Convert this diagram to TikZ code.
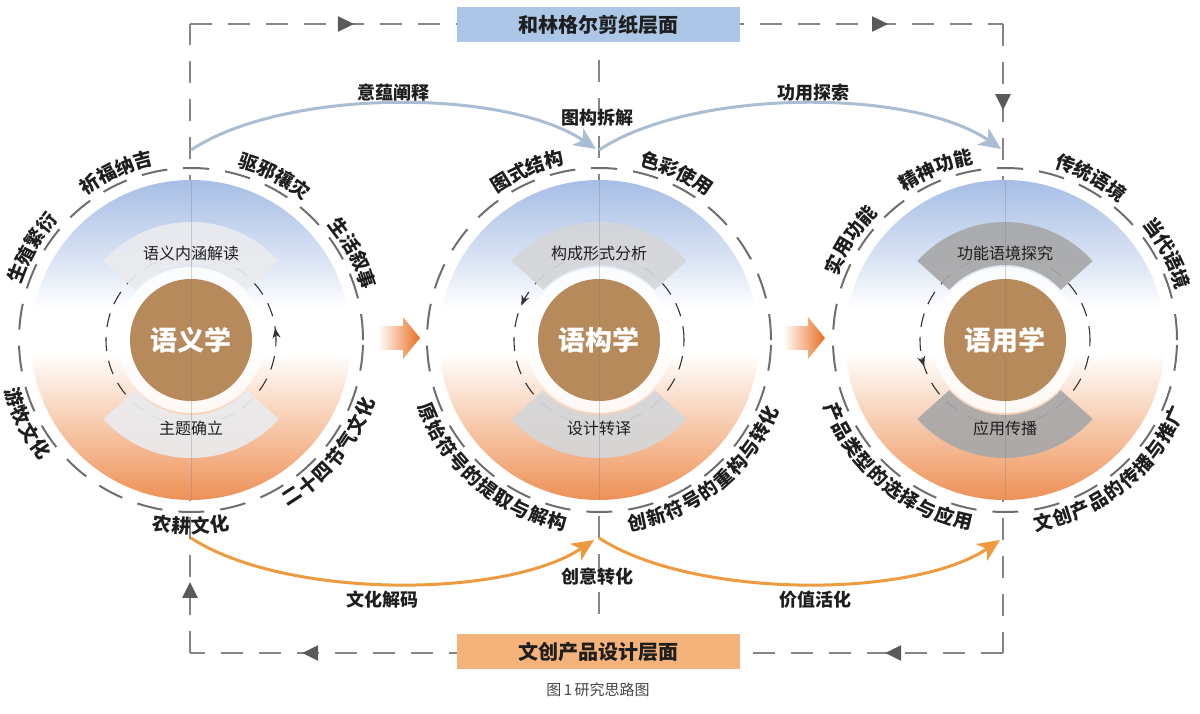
\documentclass[tikz,border=0pt]{standalone}
\usepackage{fontspec}
\setmainfont{Noto Sans CJK SC}
\usetikzlibrary{arrows.meta,decorations.markings,calc}

\definecolor{frameGray}{HTML}{858585}
\definecolor{tipGray}{HTML}{5A5A5A}
\definecolor{ringGray}{HTML}{6E6E6E}
\definecolor{blueTop}{HTML}{A7BEE6}
\definecolor{blueMid}{HTML}{D8E2F3}
\definecolor{orgBot}{HTML}{EE9056}
\definecolor{orgMid}{HTML}{F7CBAE}
\definecolor{brownC}{HTML}{B78A5C}
\definecolor{bandA}{HTML}{EAEBEE}
\definecolor{bandB}{HTML}{D5D6D9}
\definecolor{bandC}{HTML}{A8A8A9}
\definecolor{curveBlue}{HTML}{A9BED2}
\definecolor{curveOrg}{HTML}{EE9A3E}
\definecolor{bannerBlue}{HTML}{ABC6E6}
\definecolor{bannerOrg}{HTML}{F5B27A}
\definecolor{blockOrg}{HTML}{E96E22}
\definecolor{txt}{HTML}{1E1E1E}
\definecolor{capGray}{HTML}{444444}

\pgfdeclareverticalshading{discshade}{100bp}{color(0bp)=(orgBot); color(25bp)=(orgBot); color(37bp)=(orgMid); color(48bp)=(white); color(55bp)=(white); color(63bp)=(blueMid); color(75bp)=(blueTop); color(100bp)=(blueTop)}

\tikzset{
  ftip/.tip={Triangle[length=8pt,width=7.5pt,color=tipGray]},
  outerring/.style={draw=ringGray, line width=1pt, dash pattern=on 13pt off 8pt},
  innerring/.style={draw=black!80, line width=0.55pt, dash pattern=on 7pt off 5pt},
  innertip/.style={draw=black!80, line width=0.55pt, -{Stealth[length=5pt,width=4pt]}},
  ringlab/.style={inner sep=0pt, text=txt, font=\bfseries\fontsize{9.5}{10}\selectfont},
  bandtext/.style={inner sep=0pt, text=txt, font=\fontsize{8}{9}\selectfont},
  coretext/.style={inner sep=0pt, text=white, font=\bfseries\fontsize{13.5}{14}\selectfont},
  curvelab/.style={inner sep=1pt, text=txt, font=\bfseries\fontsize{9}{10}\selectfont},
  frame/.style={draw=frameGray, line width=1.2pt, dash pattern=on 11pt off 8pt},
  midline/.style={draw=frameGray, line width=0.9pt, dash pattern=on 11pt off 8pt},
  faintline/.style={draw=gray, line width=0.5pt, opacity=0.35},
  topcurve/.style={draw=curveBlue, line width=1.5pt, -{Stealth[length=11pt,width=10pt,inset=3pt]}},
  botcurve/.style={draw=curveOrg, line width=1.5pt, -{Stealth[length=11pt,width=10pt,inset=3pt]}},
  banner/.style={minimum width=141.5pt, minimum height=17.5pt, inner sep=0pt, text=txt, font=\bfseries\fontsize{10}{11}\selectfont},
}

% #1 name, #2 x, #3 y, #4 band colour, #5 core text, #6 top band, #7 bottom band, #8 arrow angle
\newcommand\discunit[8]{%
 \begin{scope}[shift={(#2,#3)}]
  \coordinate (#1) at (0,0);
  \shade[shading=discshade] (0,0) circle[radius=160];
  \draw[outerring] (0,0) circle[radius=172];
  \draw[innerring] (0,0) circle[radius=85];
  \draw[innertip] ({#8-6}:85) arc[start angle=#8-6, end angle=#8, radius=85];
  \fill[#4, opacity=0.92] (42:75) arc[start angle=42,end angle=138,radius=75] -- (138:118) arc[start angle=138,end angle=42,radius=118] -- cycle;
  \fill[#4, opacity=0.92] (222:75) arc[start angle=222,end angle=318,radius=75] -- (318:118) arc[start angle=318,end angle=222,radius=118] -- cycle;
  \fill[white, opacity=0.85] (0,0) circle[radius=73];
  \fill[brownC] (0,0) circle[radius=61];
  \draw[faintline] (0,160) -- (0,-160);
  \node[coretext] (#1-core) at (0,0) {#5};
  \node[bandtext] (#1-top) at (0,87) {#6};
  \node[bandtext] (#1-bot) at (0,-88) {#7};
 \end{scope}}

% labels on the ring: #1 name, #2 centre angle, #3 number of chars, #4 chars
\newcommand\toplab[4]{%
 \foreach \ch [count=\i from 0] in {#4}{%
   \pgfmathsetmacro\ang{#2+(#3-1)*3-\i*6}%
   \node[ringlab, rotate=\ang-90] (#1-\i) at (\ang:186) {\ch};
 }}
\newcommand\botlab[4]{%
 \foreach \ch [count=\i from 0] in {#4}{%
   \pgfmathsetmacro\ang{#2-(#3-1)*3+\i*6}%
   \node[ringlab, rotate=\ang+90] (#1-\i) at (\ang:186) {\ch};
 }}

\begin{document}
\begin{tikzpicture}[x=0.5pt,y=0.5pt]
\useasboundingbox (0,0) rectangle (1200,-713);

% frame corners
\coordinate (TL) at (190,-24);
\coordinate (TR) at (1003,-24);
\coordinate (BR) at (1003,-653);
\coordinate (BL) at (190,-653);
\coordinate (MT) at (599,-60);
\coordinate (MB) at (599,-622);

\draw[frame, postaction={decorate}, decoration={markings, mark=at position 0.2017 with {\arrow{ftip}}, mark=at position 0.8586 with {\arrow{ftip}}}] (TL) -- (TR);
\draw[frame, postaction={decorate}, decoration={markings, mark=at position 0.137 with {\arrow{ftip}}}] (TR) -- (BR);
\draw[frame, postaction={decorate}, decoration={markings, mark=at position 0.145 with {\arrow{ftip}}, mark=at position 0.862 with {\arrow{ftip}}}] (BR) -- (BL);
\draw[frame, postaction={decorate}, decoration={markings, mark=at position 0.113 with {\arrow{ftip}}}] (BL) -- (TL);
\draw[midline] (MT) -- (MB);

% discs
\discunit{L}{191}{-340}{bandA}{语义学}{语义内涵解读}{主题确立}{8}
\discunit{M}{599}{-340}{bandB}{语构学}{构成形式分析}{设计转译}{156}
\discunit{R}{1005}{-340}{bandC}{语用学}{功能语境探究}{应用传播}{198}

% ring labels
\begin{scope}[shift={(191,-340)}]
 \toplab{l1}{114}{4}{祈,福,纳,吉}
 \toplab{l2}{63}{4}{驱,邪,禳,灾}
 \toplab{l3}{28}{4}{生,活,叙,事}
 \toplab{l4}{150}{4}{生,殖,繁,衍}
 \botlab{l5}{207}{4}{游,牧,文,化}
 \botlab{l6}{270}{4}{农,耕,文,化}
 \botlab{l7}{321}{7}{二,十,四,节,气,文,化}
\end{scope}
\begin{scope}[shift={(599,-340)}]
 \toplab{m1}{113}{4}{图,式,结,构}
 \toplab{m2}{65}{4}{色,彩,使,用}
 \botlab{m3}{230}{10}{原,始,符,号,的,提,取,与,解,构}
 \botlab{m4}{309}{10}{创,新,符,号,的,重,构,与,转,化}
\end{scope}
\begin{scope}[shift={(1005,-340)}]
 \toplab{r1}{147}{4}{实,用,功,能}
 \toplab{r2}{112}{4}{精,神,功,能}
 \toplab{r3}{62}{4}{传,统,语,境}
 \toplab{r4}{28}{4}{当,代,语,境}
 \botlab{r5}{230}{10}{产,品,类,型,的,选,择,与,应,用}
 \botlab{r6}{309}{10}{文,创,产,品,的,传,播,与,推,广}
\end{scope}

% block arrows
\shade[left color=white, middle color=blockOrg!50, right color=blockOrg] (378,-326) -- (403,-326) -- (403,-317) -- (420,-338) -- (403,-359) -- (403,-350) -- (378,-350) -- cycle;
\shade[left color=white, middle color=blockOrg!50, right color=blockOrg] (783,-326) -- (808,-326) -- (808,-317) -- (825,-338) -- (808,-359) -- (808,-350) -- (783,-350) -- cycle;

% curved arrows
\coordinate (A1) at (191,-150);
\coordinate (A2) at (596,-149);
\coordinate (A3) at (599,-150);
\coordinate (A4) at (1001,-149);
\coordinate (B1) at (191,-538);
\coordinate (B2) at (594,-540);
\coordinate (B3) at (599,-538);
\coordinate (B4) at (1000,-540);
\draw[topcurve] (A1) .. controls (285,-88) and (505,-88) .. (A2);
\draw[topcurve] (A3) .. controls (693,-88) and (913,-88) .. (A4);
\draw[botcurve] (B1) .. controls (285,-599) and (505,-599) .. (B2);
\draw[botcurve] (B3) .. controls (693,-599) and (913,-599) .. (B4);

\node[curvelab] (c1) at (393,-93) {意蕴阐释};
\node[curvelab] (c2) at (597,-118) {图构拆解};
\node[curvelab] (c3) at (813,-93) {功用探索};
\node[curvelab] (c4) at (382,-600) {文化解码};
\node[curvelab] (c5) at (597,-577) {创意转化};
\node[curvelab] (c6) at (815,-600) {价值活化};

% banners
\node[banner, fill=bannerBlue] (topban) at (598.5,-24.5) {和林格尔剪纸层面};
\node[banner, fill=bannerOrg] (botban) at (598.5,-651.5) {文创产品设计层面};
\node[inner sep=0pt, text=capGray, font=\fontsize{7.5}{8}\selectfont] (cap) at (598,-690) {图\,1\,研究思路图};
\end{tikzpicture}
\end{document}
